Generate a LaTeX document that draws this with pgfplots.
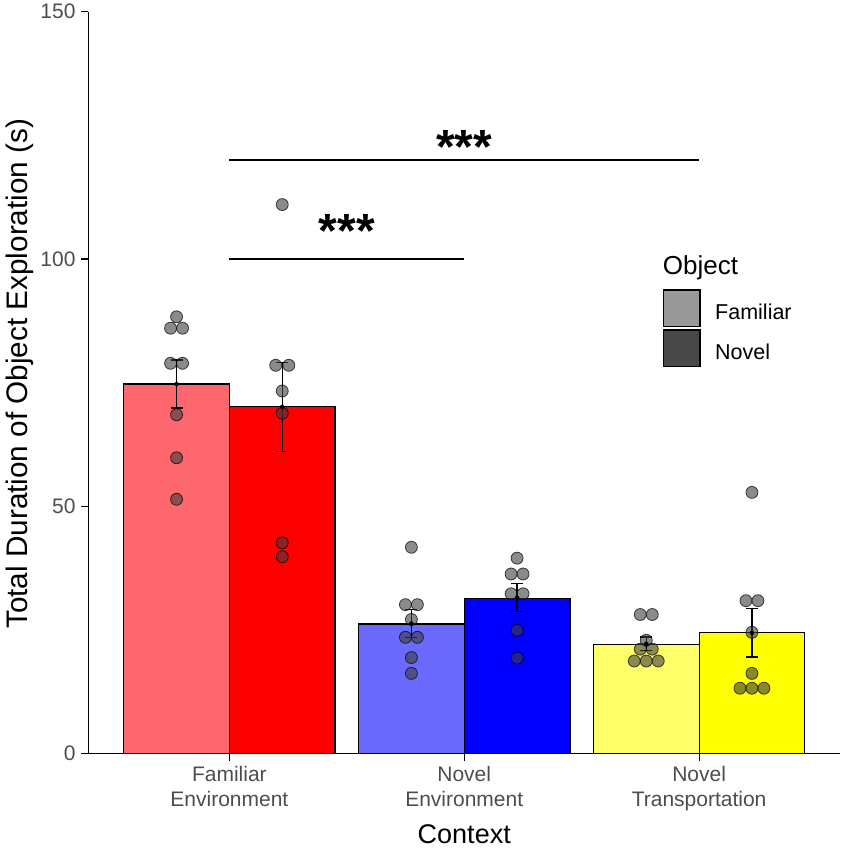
\documentclass[border=0pt]{standalone}
\usepackage{fontspec}
\setmainfont{Liberation Sans}
\usepackage{pgfplots}
\pgfplotsset{compat=1.18}
\definecolor{tickgray}{HTML}{4D4D4D}
\definecolor{fefam}{HTML}{FF676E}
\definecolor{fenov}{HTML}{FF0000}
\definecolor{nefam}{HTML}{6A6AFF}
\definecolor{nenov}{HTML}{0000FF}
\definecolor{ntfam}{HTML}{FFFF6A}
\definecolor{ntnov}{HTML}{FFFF00}
\definecolor{keyfam}{HTML}{999999}
\definecolor{keynov}{HTML}{484848}
\begin{document}
\begin{tikzpicture}
\useasboundingbox (-88.5pt,-96.5pt) rectangle (757.5pt,753.5pt);
\begin{axis}[
  at={(0pt,0pt)}, anchor=south west,
  width=751.5pt, height=741.8pt, scale only axis,
  xmin=0.4, xmax=3.6, ymin=0, ymax=150,
  axis lines=left,
  axis line style={-, line width=1.2pt, black},
  xtick={1,2,3},
  xticklabels={{Familiar\\Environment},{Novel\\Environment},{Novel\\Transportation}},
  ytick={0,50,100,150},
  tick align=outside, major tick length=7pt,
  tick style={line width=1.2pt, black},
  xticklabel style={align=center, font=\fontsize{21}{24.5}\selectfont, text=tickgray, yshift=-2.5pt},
  yticklabel style={font=\fontsize{21}{24}\selectfont, text=tickgray, xshift=-2.5pt},
  /pgf/number format/assume math mode=true,
  xlabel={Context},
  xlabel style={at={(axis description cs:0.5,-0.12065)}, anchor=base, font=\fontsize{27}{32}\selectfont},
  ylabel={Total Duration of Object Exploration (s)},
  ylabel style={at={(axis description cs:-0.0805,0.512)}, anchor=base, rotate=0, font=\fontsize{29.7}{34}\selectfont},
  clip=false,
]
% bars
\addplot[ybar, bar width=0.45, bar shift=0pt, fill=fefam, draw=black, line width=1.2pt] coordinates {(0.775,74.7)};
\addplot[ybar, bar width=0.45, bar shift=0pt, fill=fenov, draw=black, line width=1.2pt] coordinates {(1.225,70.1)};
\addplot[ybar, bar width=0.45, bar shift=0pt, fill=nefam, draw=black, line width=1.2pt] coordinates {(1.775,26.2)};
\addplot[ybar, bar width=0.45, bar shift=0pt, fill=nenov, draw=black, line width=1.2pt] coordinates {(2.225,31.4)};
\addplot[ybar, bar width=0.45, bar shift=0pt, fill=ntfam, draw=black, line width=1.2pt] coordinates {(2.775,22.1)};
\addplot[ybar, bar width=0.45, bar shift=0pt, fill=ntnov, draw=black, line width=1.2pt] coordinates {(3.225,24.5)};
% individual points
\addplot[only marks, mark=*, mark size=6pt, mark options={fill=black!76, fill opacity=0.6, draw=black, draw opacity=0.7, line width=0.8pt}] coordinates {
(0.775,88.3) (0.7495,86.0) (0.8005,86.0) (0.7495,78.9) (0.8005,78.9) (0.775,68.5) (0.775,59.8) (0.775,51.4)
(1.225,111.0) (1.197,78.5) (1.253,78.5) (1.225,73.3) (1.225,68.8) (1.225,42.6) (1.225,39.8)
(1.775,41.7) (1.7495,30.1) (1.8005,30.1) (1.775,27.1) (1.7495,23.5) (1.8005,23.5) (1.775,19.4) (1.775,16.2)
(2.225,39.5) (2.1995,36.3) (2.2505,36.3) (2.1995,32.3) (2.2505,32.3) (2.225,24.9) (2.225,19.3)
(2.7495,28.1) (2.8005,28.1) (2.775,22.9) (2.7495,21.1) (2.8005,21.1) (2.724,18.7) (2.775,18.7) (2.826,18.7)
(3.225,52.8) (3.1995,30.9) (3.2505,30.9) (3.225,24.5) (3.225,16.2) (3.174,13.2) (3.225,13.2) (3.276,13.2)
};
% error bars
\addplot[only marks, mark=none, error bars/.cd, y dir=both, y explicit,
  error bar style={black, line width=1.2pt, solid},
  error mark options={rotate=90, mark size=6pt, black, line width=1.2pt}] coordinates {
(0.775,74.7) +- (0,4.85)
(1.225,70.1) +- (0,9.0)
(1.775,26.3) +- (0,2.85)
(2.225,31.5) +- (0,2.8)
(2.775,22.2) +- (0,1.35)
(3.225,24.4) +- (0,4.9)
};
% significance lines
\addplot[black, line width=2.6pt] coordinates {(1,100) (2,100)};
\addplot[black, line width=2.6pt] coordinates {(1,120) (3,120)};
\node[anchor=base, inner sep=0pt, font=\fontsize{48}{50}\selectfont\bfseries] at (axis cs:1.5,102.4) {***};
\node[anchor=base, inner sep=0pt, font=\fontsize{48}{50}\selectfont\bfseries] at (axis cs:2.0,119.3) {***};
\end{axis}
% legend
\node[anchor=base west, inner sep=0pt, font=\fontsize{26}{30}\selectfont] at (574.2pt,478.5pt) {Object};
\filldraw[fill=keyfam, draw=black, line width=1.2pt] (574.8pt,463.5pt) rectangle (611.5pt,426.8pt);
\filldraw[fill=keynov, draw=black, line width=1.2pt] (574.8pt,423.5pt) rectangle (611.5pt,386.8pt);
\node[anchor=base west, inner sep=0pt, font=\fontsize{21.5}{25}\selectfont] at (626.5pt,434.2pt) {Familiar};
\node[anchor=base west, inner sep=0pt, font=\fontsize{21.5}{25}\selectfont] at (626.5pt,394.2pt) {Novel};
\end{tikzpicture}
\end{document}
